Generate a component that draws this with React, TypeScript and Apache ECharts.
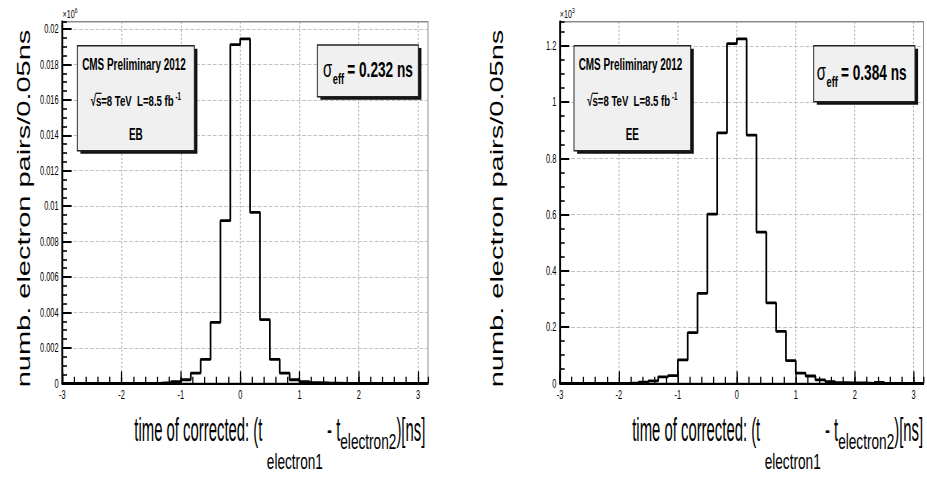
import React, { useEffect, useRef } from 'react';
import * as echarts from 'echarts';

const FONT = '"Liberation Sans", Arial, Helvetica, sans-serif';
// The canvas is drawn wide and then compressed horizontally by CSS.
const SQUEEZE = 0.62;
const VIEW_W = 927;
const VIEW_H = 478;
const CHART_W = Math.round(VIEW_W / SQUEEZE);

// Histogram binning (time difference in ns)
const BIN_LO = -3;
const BIN_WIDTH = 1 / 6;

// Barrel (EB) pair counts per bin, in units of 10^6
const ebCounts = [
  0, 0, 0, 0, 0, 0, 0, 0, 0,
  0.00001, 0.00003, 0.0001, 0.0002, 0.00058, 0.00135, 0.00344, 0.00918, 0.01912,
  0.01944, 0.00965, 0.00359, 0.00135, 0.00058, 0.0002, 0.0001, 0.00004, 0.00002, 0.00001,
  0, 0, 0, 0, 0, 0, 0, 0, 0,
];

// Endcap (EE) pair counts per bin, in units of 10^3
const eeCounts = [
  0, 0, 0, 0, 0, 0, 0,
  0.001, 0.004, 0.0085, 0.023, 0.027, 0.083, 0.18, 0.32, 0.602, 0.891, 1.208,
  1.225, 0.883, 0.538, 0.286, 0.185, 0.0805, 0.036, 0.026, 0.012, 0.006, 0.002, 0.001, 0.001,
  0, 0.003, 0, 0, 0, 0,
];

const xTicks = [-3, -2, -1, 0, 1, 2, 3];
const ebYTicks = [0, 0.002, 0.004, 0.006, 0.008, 0.01, 0.012, 0.014, 0.016, 0.018, 0.02];
const eeYTicks = [0, 0.2, 0.4, 0.6, 0.8, 1, 1.2];
const xMinorStep = 0.2;
const ebMinorStep = 0.0005;
const eeMinorStep = 0.05;

const regionNames = ['EB', 'EE'];
const sigmaTexts = ['= 0.232 ns', '= 0.384 ns'];
const exponents = ['6', '3'];
const experimentLabel = 'CMS Preliminary 2012';
const yTitle = 'numb. electron pairs/0.05ns';

const GRID_TOP = 21.7;
const GRID_BOTTOM_Y = 383.3;

const panels = [
  {
    counts: ebCounts, yTicks: ebYTicks, minorStep: ebMinorStep,
    gridLeft: 100.5, gridRight: 690.3, yTitleX: 38.5, expX: 101,
    box: [124.7, 45.7, 188.7, 105], sigmaBox: [511.8, 45, 162.9, 51.7],
    sigmaX: 521, sigmaBase: 77, titleRight: 686,
  },
  {
    counts: eeCounts, yTicks: eeYTicks, minorStep: eeMinorStep,
    gridLeft: 903.2, gridRight: 1489.5, yTitleX: 801.6, expX: 903,
    box: [925.8, 45.7, 188.2, 105], sigmaBox: [1312.4, 45.7, 163.4, 56],
    sigmaX: 1317.3, sigmaBase: 80, titleRight: 1489,
  },
];

let measureCtx: CanvasRenderingContext2D | null = null;
function textWidth(text: string, size: number, weight = 'normal') {
  if (!measureCtx) measureCtx = document.createElement('canvas').getContext('2d');
  if (!measureCtx) return text.length * size * 0.5;
  measureCtx.font = `${weight} ${size}px ${FONT}`;
  return measureCtx.measureText(text).width;
}

type Frag = { text: string; size: number; weight?: string; dy?: number; gap?: number; sx?: number };

function textEl(text: string, x: number, y: number, size: number, weight: string, align = 'left', sx = 1) {
  return {
    type: 'text', x, y, scaleX: sx, silent: true, z: 60,
    style: {
      text, fontSize: size, fontWeight: weight, fontFamily: FONT, fill: '#000',
      align, textAlign: align, verticalAlign: 'middle', textVerticalAlign: 'middle',
    },
  };
}

// Lays out text fragments along one baseline (sub/superscripts via dy)
function runText(frags: Frag[], anchorX: number, baseline: number, align: 'left' | 'right' | 'center') {
  const widths = frags.map((f) => textWidth(f.text, f.size, f.weight || 'normal') * (f.sx || 1) + (f.gap || 0));
  const total = widths.reduce((a, b) => a + b, 0);
  let x = align === 'left' ? anchorX : align === 'right' ? anchorX - total : anchorX - total / 2;
  return frags.map((f, i) => {
    const x0 = x + (f.gap || 0);
    x += widths[i];
    return textEl(f.text, x0, baseline + (f.dy || 0) - 0.3465 * f.size, f.size, f.weight || 'normal', 'left', f.sx || 1);
  });
}

function stepPoints(counts: number[]) {
  const pts: number[][] = [[BIN_LO, 0]];
  counts.forEach((c, i) => {
    const a = BIN_LO + i * BIN_WIDTH;
    pts.push([a, c], [a + BIN_WIDTH, c]);
  });
  pts.push([BIN_LO + counts.length * BIN_WIDTH, 0]);
  return pts;
}

function buildOption() {
  const xMax = BIN_LO + ebCounts.length * BIN_WIDTH;
  const grid: any[] = [];
  const xAxis: any[] = [];
  const yAxis: any[] = [];
  const series: any[] = [];
  const graphic: any[] = [];

  panels.forEach((p, k) => {
    const yMax = 1.05 * Math.max(...p.counts);
    grid.push({
      left: p.gridLeft, right: CHART_W - p.gridRight, top: GRID_TOP, bottom: VIEW_H - GRID_BOTTOM_Y,
      show: true, borderColor: '#8c8c8c', borderWidth: 1.5, backgroundColor: 'transparent',
      containLabel: false, outerBoundsMode: 'none',
    });
    xAxis.push(
      {
        type: 'value', gridIndex: k, position: 'bottom', min: BIN_LO, max: xMax, interval: 1,
        axisLine: { show: true, onZero: false, lineStyle: { color: '#000', width: 2 } },
        axisTick: { show: true, inside: true, length: 12, customValues: xTicks, lineStyle: { color: '#000', width: 2 } },
        axisLabel: { show: true, customValues: xTicks, margin: 5, fontSize: 12, color: '#000', fontFamily: FONT },
        splitLine: { show: true, lineStyle: { color: '#a0a0a0', type: [2, 2], width: 1.4 } },
      },
      {
        type: 'value', gridIndex: k, position: 'bottom', min: BIN_LO, max: xMax, interval: xMinorStep,
        axisLine: { show: false, onZero: false },
        axisTick: { show: true, inside: true, length: 6.5, lineStyle: { color: '#000', width: 2 } },
        axisLabel: { show: false }, splitLine: { show: false },
      },
    );
    yAxis.push(
      {
        type: 'value', gridIndex: k, position: 'left', min: 0, max: yMax, interval: p.yTicks[1] - p.yTicks[0],
        axisLine: { show: true, onZero: false, lineStyle: { color: '#000', width: 3 } },
        axisTick: { show: true, inside: true, length: 15, customValues: p.yTicks, lineStyle: { color: '#000', width: 2 } },
        axisLabel: { show: true, customValues: p.yTicks, margin: 6, fontSize: 12, color: '#000', fontFamily: FONT },
        splitLine: { show: true, lineStyle: { color: '#b4b4b4', type: [6, 3], width: 1 } },
      },
      {
        type: 'value', gridIndex: k, position: 'left', min: 0, max: yMax, interval: p.minorStep,
        axisLine: { show: false, onZero: false },
        axisTick: { show: true, inside: true, length: 7.5, lineStyle: { color: '#000', width: 1.6 } },
        axisLabel: { show: false }, splitLine: { show: false },
      },
    );
    series.push({
      type: 'line', xAxisIndex: k * 2, yAxisIndex: k * 2, data: stepPoints(p.counts),
      showSymbol: false, symbol: 'none', clip: false, silent: true, z: 3,
      lineStyle: { color: '#000', width: 2.8 },
    });

    // y-axis title
    graphic.push({
      type: 'text', x: p.yTitleX, y: (GRID_TOP + GRID_BOTTOM_Y) / 2 + 6, rotation: Math.PI / 2, silent: true, z: 60,
      style: {
        text: yTitle, fontSize: 29, fontFamily: FONT, fill: '#000',
        align: 'center', textAlign: 'center', verticalAlign: 'middle', textVerticalAlign: 'middle',
      },
    });
    // exponent marker
    graphic.push(...runText([
      { text: '×10', size: 11.5 },
      { text: exponents[k], size: 8, dy: -5 },
    ], p.expX, 18, 'left'));

    // x-axis title
    graphic.push(...runText([
      { text: 'time of corrected: (t', size: 33, sx: 0.727 },
      { text: 'electron1', size: 22, dy: 28, gap: 7 },
      { text: ' - t', size: 33, sx: 0.727 },
      { text: 'electron2', size: 22, dy: 8 },
      { text: ')[ns]', size: 33, sx: 0.727 },
    ], p.titleRight, 441, 'right'));

    // info box with shadow
    const [bx, by, bw, bh] = p.box;
    graphic.push(
      { type: 'rect', silent: true, z: 50, shape: { x: bx + 5, y: by + 3, width: bw, height: bh }, style: { fill: '#111' } },
      { type: 'rect', silent: true, z: 51, shape: { x: bx, y: by, width: bw, height: bh }, style: { fill: '#f0f0f0', stroke: '#222', lineWidth: 1.5 } },
    );
    const cx = bx + bw / 2;
    graphic.push(textEl(experimentLabel, cx - 3, 64.5, 16, 'bold', 'center'));
    const lumi = runText([
      { text: '√', size: 15.5, weight: 'bold' },
      { text: 's=8 TeV  L=8.5 fb', size: 15.5, weight: 'bold' },
      { text: ' -1', size: 10, weight: 'bold', dy: -6 },
    ], cx, 106, 'center');
    graphic.push(...lumi);
    const sx = (lumi[1] as any).x;
    graphic.push({
      type: 'line', silent: true, z: 60,
      shape: { x1: sx - 0.5, y1: 106 - 0.82 * 15.5, x2: sx + textWidth('s', 15.5, 'bold') + 0.5, y2: 106 - 0.82 * 15.5 },
      style: { stroke: '#000', lineWidth: 1.2 },
    });
    graphic.push(textEl(regionNames[k], cx, 135, 16, 'bold', 'center'));

    // effective width box
    const [qx, qy, qw, qh] = p.sigmaBox;
    graphic.push(
      { type: 'rect', silent: true, z: 50, shape: { x: qx + 5, y: qy + 3, width: qw, height: qh }, style: { fill: '#111' } },
      { type: 'rect', silent: true, z: 51, shape: { x: qx, y: qy, width: qw, height: qh }, style: { fill: '#f0f0f0', stroke: '#222', lineWidth: 1.5 } },
    );
    graphic.push(...runText([
      { text: 'σ', size: 24 },
      { text: 'eff', size: 15, weight: 'bold', dy: 7, gap: 1 },
      { text: sigmaTexts[k], size: 22, weight: 'bold', gap: 5 },
    ], p.sigmaX, p.sigmaBase, 'left'));
  });

  return {
    animation: false,
    backgroundColor: '#ffffff',
    textStyle: { fontFamily: FONT },
    grid, xAxis, yAxis, series, graphic,
  };
}

export default function App() {
  const ref = useRef<HTMLDivElement | null>(null);
  useEffect(() => {
    if (!ref.current) return;
    const chart = echarts.init(ref.current, undefined, { renderer: 'svg' });
    chart.setOption(buildOption() as any);
    return () => chart.dispose();
  }, []);
  return (
    <div style={{ position: 'fixed', left: 0, top: 0, width: VIEW_W, height: VIEW_H, overflow: 'hidden', background: '#fff' }}>
      <div
        ref={ref}
        style={{ width: CHART_W, height: VIEW_H, transform: `scaleX(${SQUEEZE})`, transformOrigin: '0 0' }}
      />
    </div>
  );
}
